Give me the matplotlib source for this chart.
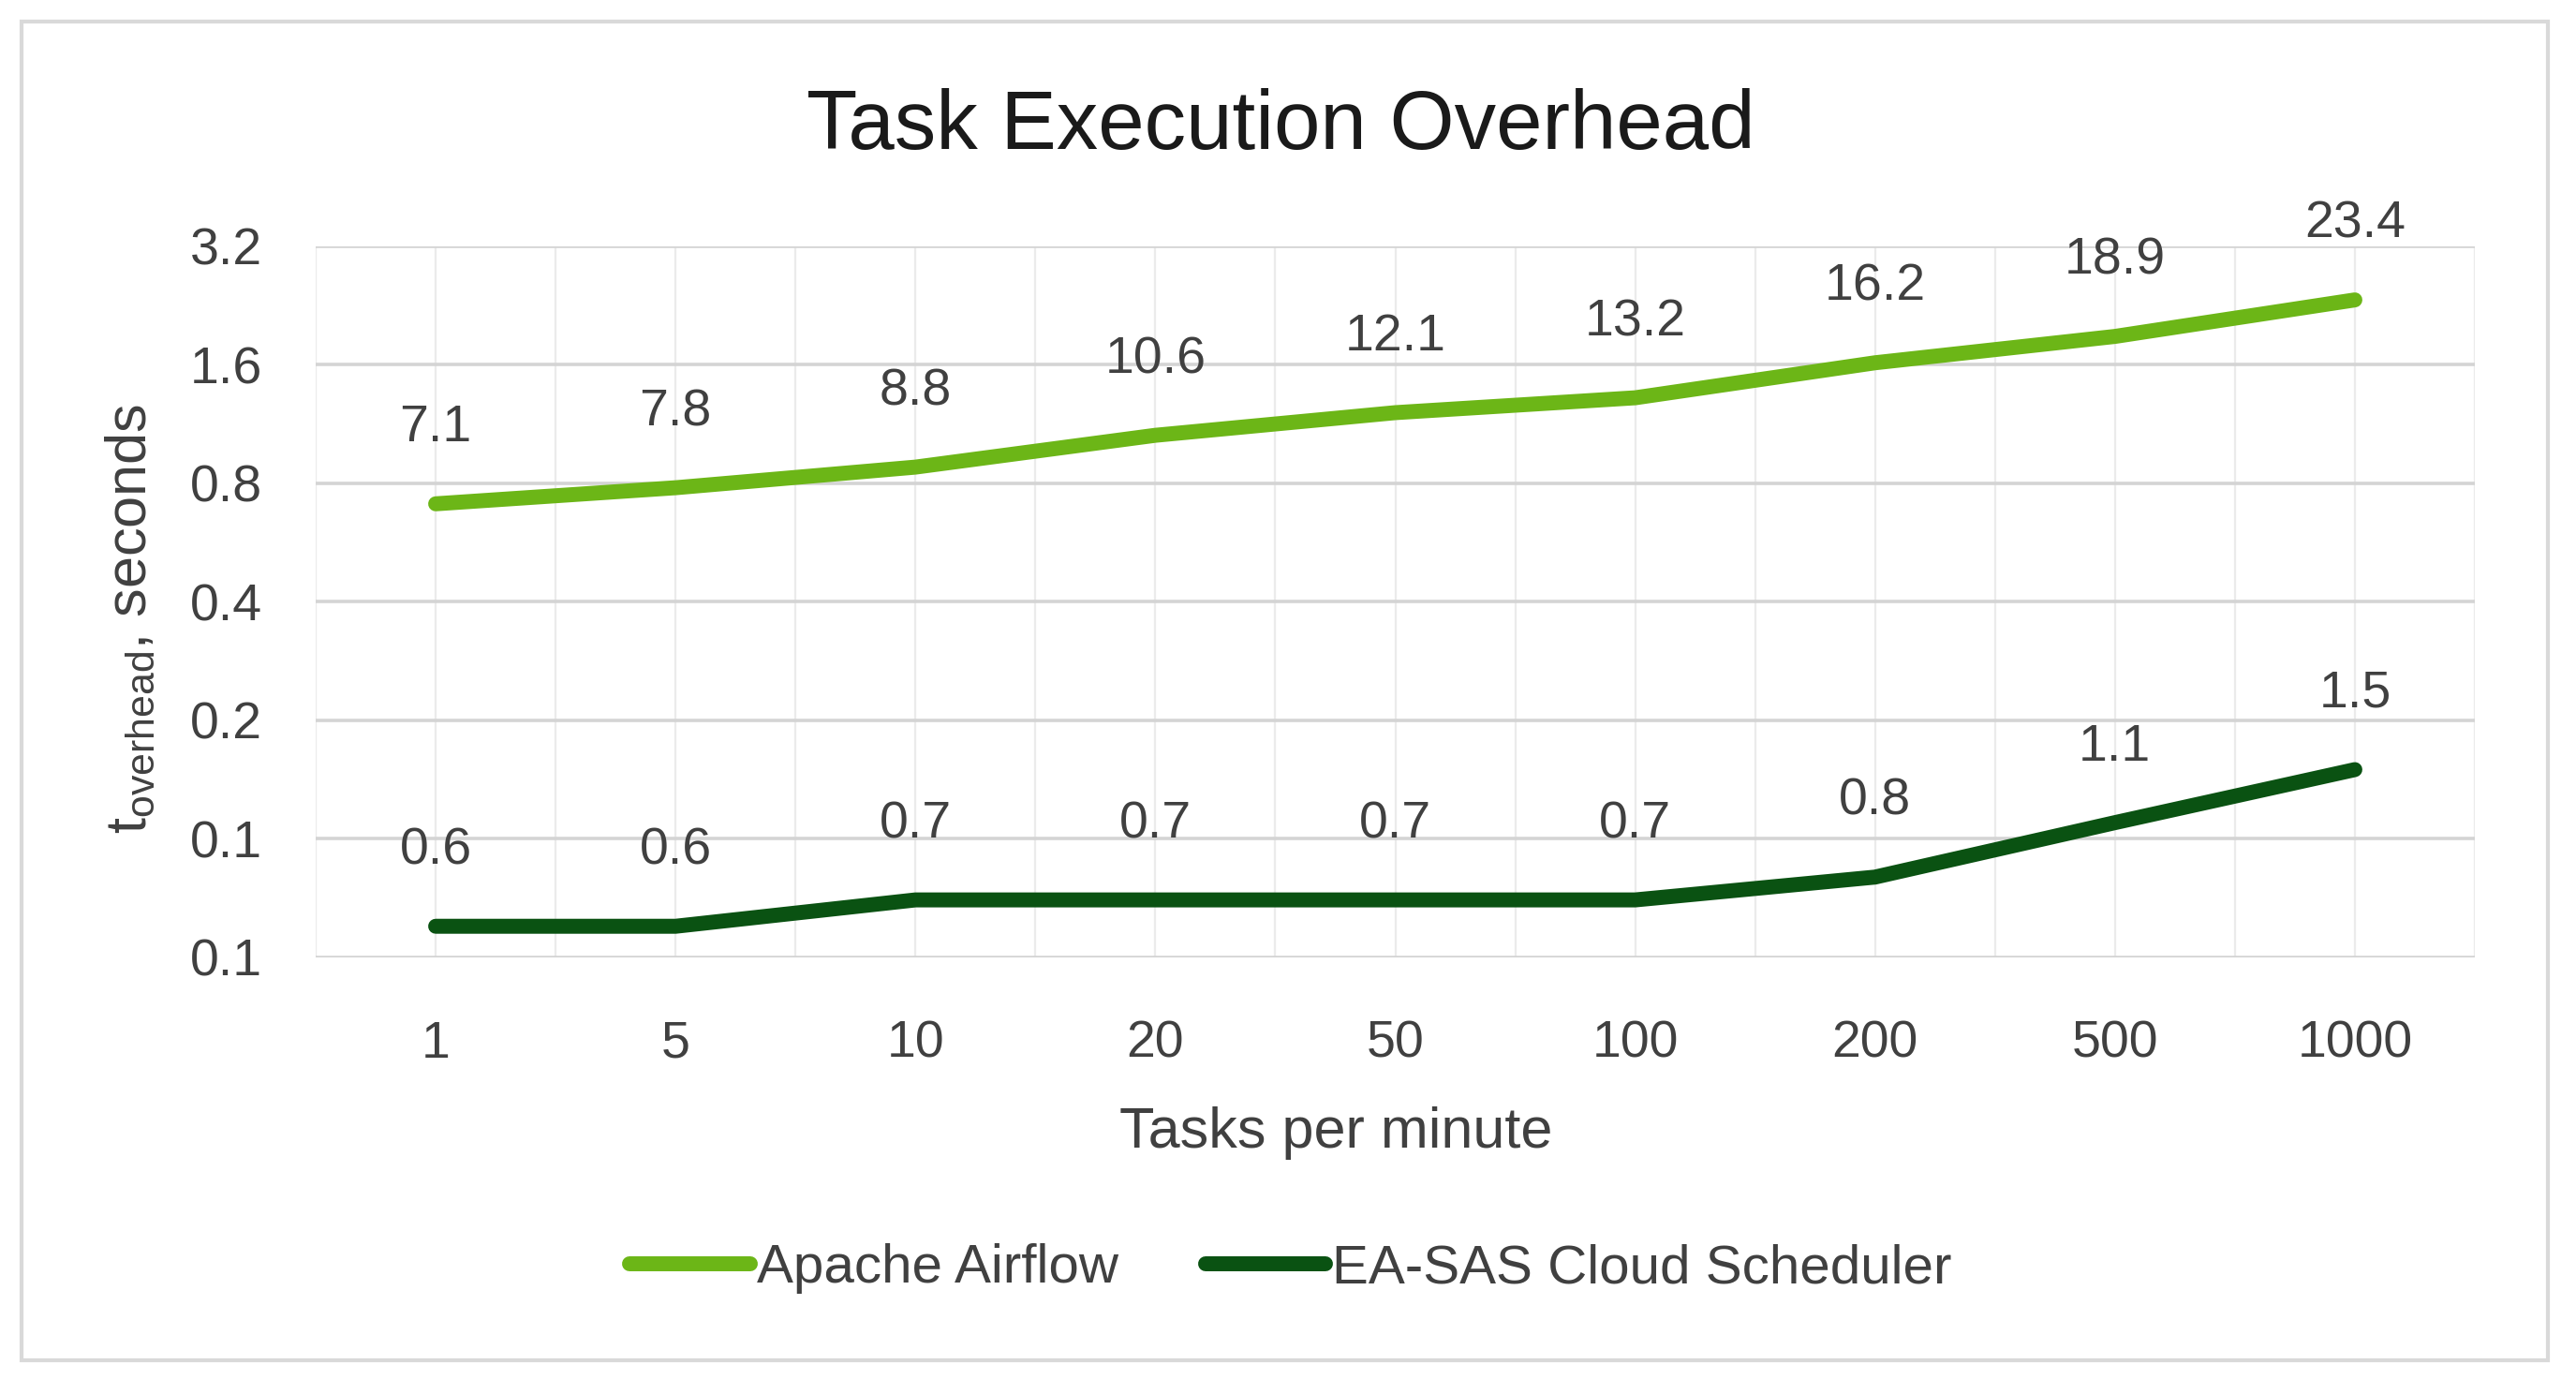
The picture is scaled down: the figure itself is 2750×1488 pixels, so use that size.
import matplotlib
matplotlib.use("Agg")
import matplotlib.pyplot as plt
from matplotlib.patches import Rectangle
from matplotlib.ticker import FixedLocator, FuncFormatter

plt.rcParams['font.family'] = ['Liberation Sans Narrow', 'Liberation Sans', 'DejaVu Sans']
plt.rcParams['mathtext.fontset'] = 'custom'
plt.rcParams['mathtext.rm'] = 'Liberation Sans'
plt.rcParams['mathtext.it'] = 'Liberation Sans'

# data
tasks = ["1", "5", "10", "20", "50", "100", "200", "500", "1000"]
airflow_labels = [7.1, 7.8, 8.8, 10.6, 12.1, 13.2, 16.2, 18.9, 23.4]
easas_labels = [0.6, 0.6, 0.7, 0.7, 0.7, 0.7, 0.8, 1.1, 1.5]
# plotted overhead in seconds
airflow_sec = [0.71, 0.78, 0.88, 1.06, 1.21, 1.32, 1.62, 1.89, 2.34]
easas_sec = [0.06, 0.06, 0.07, 0.07, 0.07, 0.07, 0.08, 0.11, 0.15]
y_ticks = [0.05, 0.1, 0.2, 0.4, 0.8, 1.6, 3.2]

light_green = "#6cb617"
dark_green = "#0a5212"
text_col = "#404040"

W, H = 2750, 1488
fig = plt.figure(figsize=(W / 100, H / 100), dpi=100)
ax = fig.add_axes([337 / W, 1 - 1022 / H, (2642 - 337) / W, (1022 - 263) / H])

x = list(range(1, len(tasks) + 1))
ax.plot(x, airflow_sec, color=light_green, lw=11.5, solid_capstyle='round',
        solid_joinstyle='round', label="Apache Airflow", zorder=3)
ax.plot(x, easas_sec, color=dark_green, lw=11.5, solid_capstyle='round',
        solid_joinstyle='round', label="EA-SAS Cloud Scheduler", zorder=3)

for xi, yv, lab in zip(x, airflow_sec, airflow_labels):
    ax.annotate(f"{lab:.1f}", (xi, yv), xytext=(0, 58), textcoords='offset points',
                ha='center', va='center', fontsize=40, color=text_col)
for xi, yv, lab in zip(x, easas_sec, easas_labels):
    ax.annotate(f"{lab:.1f}", (xi, yv), xytext=(0, 58), textcoords='offset points',
                ha='center', va='center', fontsize=40, color=text_col)

ax.set_yscale('log', base=2)
ax.set_ylim(0.05, 3.2)
ax.set_xlim(0.5, len(tasks) + 0.5)
ax.yaxis.set_major_locator(FixedLocator(y_ticks))
ax.yaxis.set_minor_locator(FixedLocator([]))
ax.yaxis.set_major_formatter(FuncFormatter(lambda v, p: f"{v:.1f}"))
ax.set_xticks(x)
ax.set_xticklabels(tasks)
ax.set_xticks([i + 0.5 for i in range(len(tasks) + 1)], minor=True)

ax.grid(axis='y', which='major', color='#d4d4d4', lw=2.6, zorder=1)
ax.grid(axis='x', which='both', color='#ebebeb', lw=1.6, zorder=0)
for s in ax.spines.values():
    s.set_visible(False)
ax.tick_params(axis='both', which='both', length=0, labelsize=40, colors=text_col)
ax.tick_params(axis='y', pad=41)
ax.tick_params(axis='x', pad=48)

fig.text(1367 / W, 1 - 136 / H, "Task Execution Overhead", ha='center', va='center',
         fontsize=64, color='#1a1a1a')
fig.text(1426 / W, 1 - 1210 / H, "Tasks per minute", ha='center', va='center',
         fontsize=44, color=text_col)
fig.text(140 / W, 1 - 660 / H, r"t$_{\mathrm{overhead}}$, seconds", rotation=90,
         ha='center', va='center', fontsize=44, color=text_col)

leg = fig.legend(loc='center', bbox_to_anchor=(1378 / W, 1 - 1354 / H), ncol=2,
                 frameon=False, fontsize=42, handlelength=2.2, handletextpad=0.12,
                 columnspacing=1.6, labelcolor=text_col)
for line in leg.get_lines():
    line.set_linewidth(11.5)
    line.set_solid_capstyle('round')

fig.patches.append(Rectangle((23 / W, 1 - 1452 / H), (2720 - 23) / W, (1452 - 23) / H,
                             transform=fig.transFigure, fill=False,
                             edgecolor='#d9d9d9', lw=3))

fig.savefig("out.png", dpi=100, facecolor='white')
